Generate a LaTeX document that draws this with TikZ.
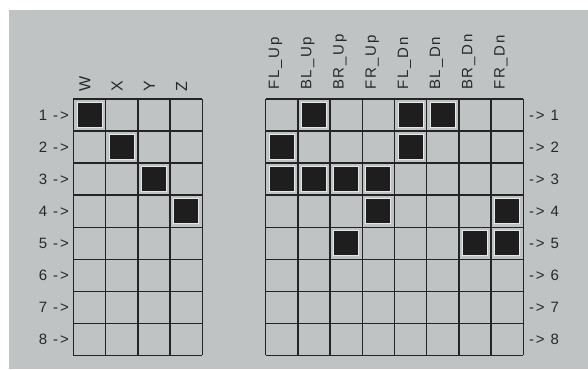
\documentclass[tikz,border=0pt]{standalone}
\usepackage{fontspec}
\setmainfont{Liberation Sans}
\newfontfamily\lblfont[LetterSpace=12]{Liberation Sans}
\definecolor{bg}{RGB}{191,195,195}
\definecolor{ink}{RGB}{36,36,36}
\definecolor{txt}{RGB}{40,40,40}
\definecolor{cellfill}{RGB}{30,30,30}
\definecolor{rim}{RGB}{228,231,231}
\begin{document}
\begin{tikzpicture}[x=1pt,y=-1pt,
  gridline/.style={draw=ink,line width=1.4pt},
  oncell/.style={draw=rim,line width=0.9pt,fill=cellfill,minimum width=25pt,minimum height=25pt,inner sep=0pt,outer sep=0pt},
  rowlbl/.style={font=\lblfont\fontsize{15}{16}\selectfont,text=txt,inner sep=0pt},
  collbl/.style={rowlbl,rotate=90,anchor=base west},
  bigcollbl/.style={collbl,font=\lblfont\fontsize{16}{17}\selectfont}]
\useasboundingbox (0,0) rectangle (588,369);
\fill[white] (0,0) rectangle (588,369);
\fill[bg] (9,10) rectangle (588,369);
% ---------- left grid ----------
\foreach \i in {0,...,4} \draw[gridline] (73.3+32.25*\i,99) -- (73.3+32.25*\i,355.4);
\foreach \j in {0,...,8} \draw[gridline] (73.3,99+32.05*\j) -- (202.3,99+32.05*\j);
% ---------- right grid ----------
\foreach \i in {0,...,8} \draw[gridline] (265.7+32.2*\i,99) -- (265.7+32.2*\i,355.4);
\foreach \j in {0,...,8} \draw[gridline] (265.7,99+32.05*\j) -- (523.3,99+32.05*\j);
% ---------- filled cells, left ----------
\foreach \c/\r in {1/1,2/2,3/3,4/4}
  \node[oncell] (L\c-\r) at (73.3+32.25*\c-16.1, 99+32.05*\r-16.0) {};
% ---------- filled cells, right ----------
\foreach \c/\r in {2/1,5/1,6/1, 1/2,5/2, 1/3,2/3,3/3,4/3, 4/4,8/4, 3/5,7/5,8/5}
  \node[oncell] (R\c-\r) at (265.7+32.2*\c-16.1, 99+32.05*\r-16.0) {};
% ---------- row labels ----------
\foreach \r in {1,...,8} {
  \node[rowlbl,anchor=east] (lr\r) at (69, 99+32.05*\r-16.0) {\r\ ->};
  \node[rowlbl,anchor=west] (rr\r) at (529, 99+32.05*\r-16.0) {->\ \r};
}
% ---------- column labels, left ----------
\foreach \t [count=\c] in {W,X,Y,Z}
  \node[bigcollbl] (lc\c) at (73.3+32.25*\c-32.25+17, 92) {\t};
% ---------- column labels, right ----------
\foreach \t [count=\c] in {FL\_Up,BL\_Up,BR\_Up,FR\_Up,FL\_Dn,BL\_Dn,BR\_Dn,FR\_Dn}
  \node[collbl] (rc\c) at (265.7+32.2*\c-32.2+13.5, 90) {\t};
\end{tikzpicture}
\end{document}
